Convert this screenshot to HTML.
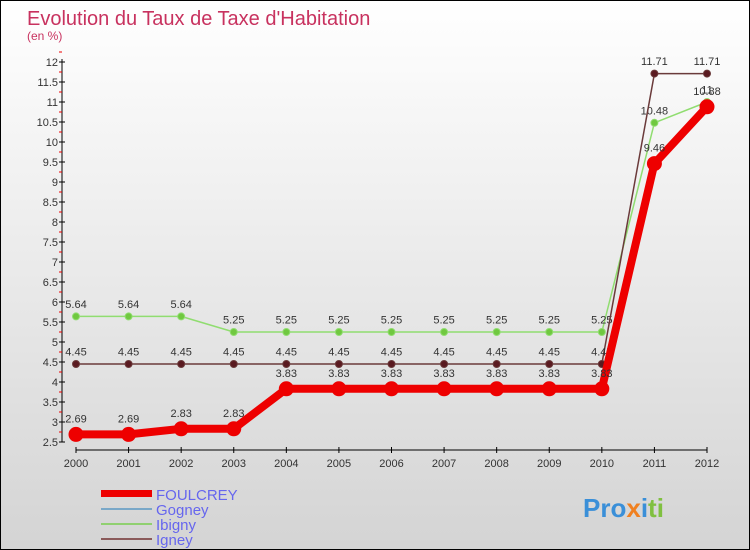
<!DOCTYPE html>
<html><head><meta charset="utf-8"><style>
body{margin:0}
#wrap{width:748px;height:548px;border:1px solid #000;background:linear-gradient(#fff,#d4d4d4);position:relative;font-family:"Liberation Sans",sans-serif;overflow:hidden}
svg text{font-family:"Liberation Sans",sans-serif}
</style></head><body>
<div id="wrap">
<svg id="c" width="748" height="548">
<text x="26" y="24" font-size="20" fill="#c8325f">Evolution du Taux de Taxe d'Habitation</text>
<text x="26" y="39" font-size="12" fill="#c8325f">(en %)</text>
<g id="axes"></g><g id="series"></g>
<g>
<rect x="100" y="489" width="51" height="7" fill="#e00"/>
<text x="155" y="499" font-size="15" fill="#6666ee">FOULCREY</text>
<rect x="100" y="507" width="51" height="2" fill="#7aa8c8"/>
<text x="155" y="514" font-size="15" fill="#6666ee">Gogney</text>
<rect x="100" y="522" width="51" height="2" fill="#90d070"/>
<text x="155" y="529" font-size="15" fill="#6666ee">Ibigny</text>
<rect x="100" y="537" width="51" height="2" fill="#8a5a5a"/>
<text x="155" y="544" font-size="15" fill="#6666ee">Igney</text>
</g>
<text x="582" y="516" font-size="26" font-weight="bold"><tspan fill="#3a8fd8">Pro</tspan><tspan fill="#f08020">x</tspan><tspan fill="#3a8fd8">i</tspan><tspan fill="#80c040">ti</tspan></text>
</svg></div>
<script>
const years=[2000,2001,2002,2003,2004,2005,2006,2007,2008,2009,2010,2011,2012];
const foulcrey=[2.69,2.69,2.83,2.83,3.83,3.83,3.83,3.83,3.83,3.83,3.83,9.46,10.88];
const ibigny=[5.64,5.64,5.64,5.25,5.25,5.25,5.25,5.25,5.25,5.25,5.25,10.48,11];
const igney=[4.45,4.45,4.45,4.45,4.45,4.45,4.45,4.45,4.45,4.45,4.45,11.71,11.71];
const yTicks=[2.5,3,3.5,4,4.5,5,5.5,6,6.5,7,7.5,8,8.5,9,9.5,10,10.5,11,11.5,12];
const NS="http://www.w3.org/2000/svg";
const X=i=>75+i*(631/12), Y=v=>61+(12-v)*40;
function mk(t,a,p){const e=document.createElementNS(NS,t);for(const k in a)e.setAttribute(k,a[k]);p.appendChild(e);return e;}
const ax=document.getElementById('axes'),sr=document.getElementById('series');
let l=mk('line',{x1:61,y1:58,x2:61,y2:441,stroke:'#000'},ax);


yTicks.forEach(v=>{
 mk('line',{x1:58,x2:64,y1:Y(v),y2:Y(v),stroke:'#000'},ax);
 mk('line',{x1:58,x2:61,y1:Y(v)-10,y2:Y(v)-10,stroke:'#e00'},ax);
 const t=mk('text',{x:57,y:Y(v)+4,'font-size':11,'text-anchor':'end',fill:'#333'},ax);
 t.textContent=String(v);
 
 
});
l=mk('line',{x1:75,y1:449,x2:706,y2:449,stroke:'#000'},ax);


years.forEach((y,i)=>{
 mk('line',{x1:X(i),x2:X(i),y1:446,y2:452,stroke:'#000'},ax);
 const t=mk('text',{x:X(i),y:466,'font-size':11,'text-anchor':'middle',fill:'#333'},ax);
 t.textContent=y;
 
 
});
function series(data,name,color,w,r,dot){
 const g=mk('g',{},sr);
 
 
 mk('polyline',{points:data.map((v,i)=>X(i)+','+Y(v)).join(' '),fill:'none',stroke:color,'stroke-width':w,'stroke-linejoin':'round'},g);
 data.forEach((v,i)=>{
  const c=mk('circle',{cx:X(i),cy:Y(v),r:r,fill:dot,stroke:color,'stroke-width':1},g);
  
  
  const t=mk('text',{x:X(i),y:Y(v)-(r+5),'font-size':11,'text-anchor':'middle',fill:'#333'},g);
  t.textContent=v.toFixed(2).replace(/0$/,'').replace(/\.0$/,'');
  
  
 });
}
series(ibigny,'ibigny','#90dd70',1.5,3.5,'#70c840');
series(igney,'igney','#6a3a3a',1.5,3.5,'#5a1a20');
series(foulcrey,'foulcrey','#ee0000',8,7,'#e00');
</script>
</body></html>
